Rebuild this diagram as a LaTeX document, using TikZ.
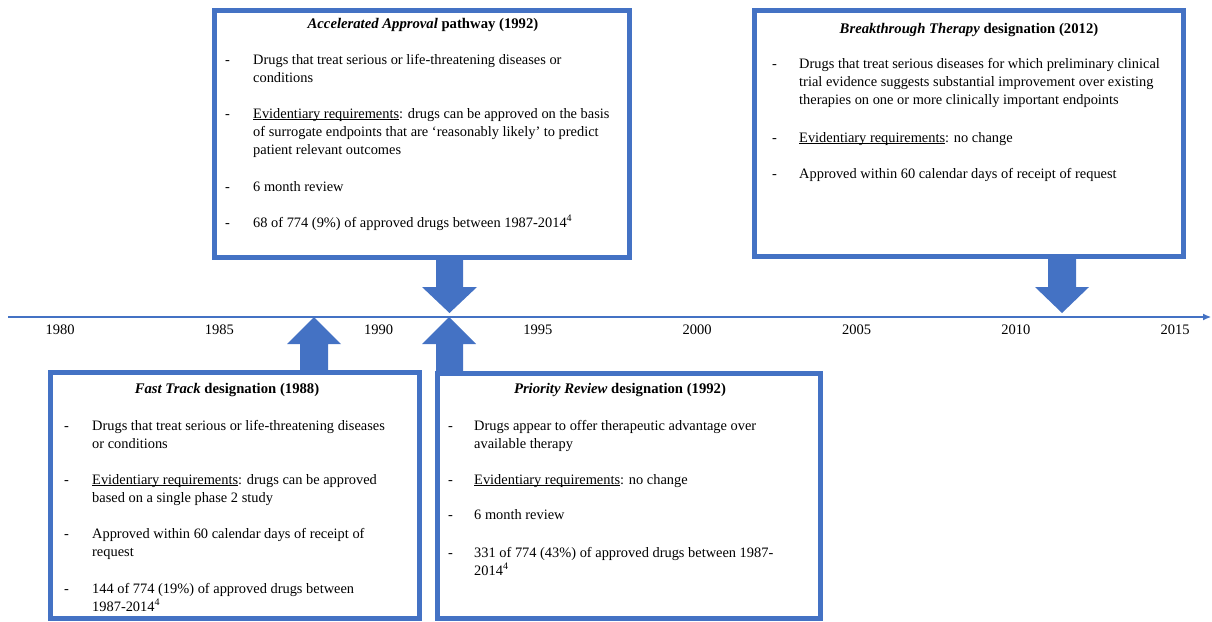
\documentclass[tikz,border=0pt]{standalone}
\usepackage{fontspec}
\setmainfont{Liberation Serif}
\usetikzlibrary{arrows.meta}
\definecolor{fdablue}{HTML}{4472C4}
\newcommand{\evreq}{\underline{\smash{Evidentiary requirements}}}
\begin{document}
\begin{tikzpicture}[x=1pt,y=-1pt,
  box/.style={draw=fdablue, line width=5pt, fill=white, inner sep=0pt, outer sep=0pt},
  txt/.style={anchor=base west, align=left, inner sep=0pt, font=\fontsize{14.4}{18}\selectfont},
  dsh/.style={anchor=base west, inner sep=0pt, font=\fontsize{14.4}{18}\selectfont},
  ttl/.style={anchor=base, inner sep=0pt, font=\fontsize{14.7}{18}\selectfont\bfseries},
  yr/.style={anchor=base, inner sep=0pt, font=\fontsize{14.5}{15}\selectfont},
  blockarrow/.style={fill=fdablue, draw=none},
  axis/.style={draw=fdablue, line width=1.1pt, -{Latex[length=8pt,width=7pt]}}]
\useasboundingbox (0,0) rectangle (1212,621);

% timeline
\coordinate (tl0) at (8,317);
\coordinate (tl1) at (1211,317);
\draw[axis] (tl0) -- (tl1);
\foreach \yy [count=\i from 0] in {1980,1985,1990,1995,2000,2005,2010,2015}{
  \node[yr] (y\yy) at ({60+159.3*\i},334) {\yy};
}

% boxes
\node[box, minimum width=415pt, minimum height=247pt] (aa) at (422,134) {};
\node[box, minimum width=429pt, minimum height=246pt] (bt) at (969,133.5) {};
\node[box, minimum width=369pt, minimum height=246pt] (ft) at (235,495.5) {};
\node[box, minimum width=383pt, minimum height=245pt] (pr) at (629,496) {};

% block arrows
\fill[blockarrow] (436,257) -- (463,257) -- (463,287) -- (477,287) -- (449.5,313) -- (422,287) -- (436,287) -- cycle;
\fill[blockarrow] (1048,256) -- (1076,256) -- (1076,287) -- (1089,287) -- (1062,313) -- (1035,287) -- (1048,287) -- cycle;
\fill[blockarrow] (300,373) -- (328,373) -- (328,344) -- (341,344) -- (314,317) -- (287,344) -- (300,344) -- cycle;
\fill[blockarrow] (436,374) -- (463,374) -- (463,344) -- (476,344) -- (449,317) -- (422,344) -- (436,344) -- cycle;

% Accelerated Approval (multi-line nodes are placed by the baseline of their last line)
\node[ttl] (aat) at (423,28) {\textit{Accelerated Approval} pathway (1992)};
\node[dsh] (aad1) at (225,64) {-};
\node[txt] (aa1) at (253,82) {Drugs that treat serious or life-threatening diseases or\\conditions};
\node[dsh] (aad2) at (225,118) {-};
\node[txt] (aa2) at (253,154) {\evreq: drugs can be approved on the basis\\of surrogate endpoints that are ‘reasonably likely’ to predict\\patient relevant outcomes};
\node[dsh] (aad3) at (225,191) {-};
\node[txt] (aa3) at (253,191) {6 month review};
\node[dsh] (aad4) at (225,227) {-};
\node[txt] (aa4) at (253,227) {68 of 774 (9\%) of approved drugs between 1987-2014\textsuperscript{4}};

% Breakthrough Therapy
\node[ttl] (btt) at (969,33) {\textit{Breakthrough Therapy} designation (2012)};
\node[dsh] (btd1) at (772,68) {-};
\node[txt] (bt1) at (799,104) {Drugs that treat serious diseases for which preliminary clinical\\trial evidence suggests substantial improvement over existing\\therapies on one or more clinically important endpoints};
\node[dsh] (btd2) at (772,142) {-};
\node[txt] (bt2) at (799,142) {\evreq: no change};
\node[dsh] (btd3) at (772,178) {-};
\node[txt] (bt3) at (799,178) {Approved within 60 calendar days of receipt of request};

% Fast Track
\node[ttl] (ftt) at (227,393) {\textit{Fast Track} designation (1988)};
\node[dsh] (ftd1) at (64,430) {-};
\node[txt] (ft1) at (92,448) {Drugs that treat serious or life-threatening diseases\\or conditions};
\node[dsh] (ftd2) at (64,484) {-};
\node[txt] (ft2) at (92,502) {\evreq: drugs can be approved\\based on a single phase 2 study};
\node[dsh] (ftd3) at (64,538) {-};
\node[txt] (ft3) at (92,556) {Approved within 60 calendar days of receipt of\\request};
\node[dsh] (ftd4) at (64,593) {-};
\node[txt] (ft4) at (92,611) {144 of 774 (19\%) of approved drugs between\\1987-2014\textsuperscript{4}};

% Priority Review
\node[ttl] (prt) at (620,393) {\textit{Priority Review} designation (1992)};
\node[dsh] (prd1) at (448,430) {-};
\node[txt] (pr1) at (474,448) {Drugs appear to offer therapeutic advantage over\\available therapy};
\node[dsh] (prd2) at (448,484) {-};
\node[txt] (pr2) at (474,484) {\evreq: no change};
\node[dsh] (prd3) at (448,519) {-};
\node[txt] (pr3) at (474,519) {6 month review};
\node[dsh] (prd4) at (448,557) {-};
\node[txt] (pr4) at (474,575) {331 of 774 (43\%) of approved drugs between 1987-\\2014\textsuperscript{4}};
\end{tikzpicture}
\end{document}
